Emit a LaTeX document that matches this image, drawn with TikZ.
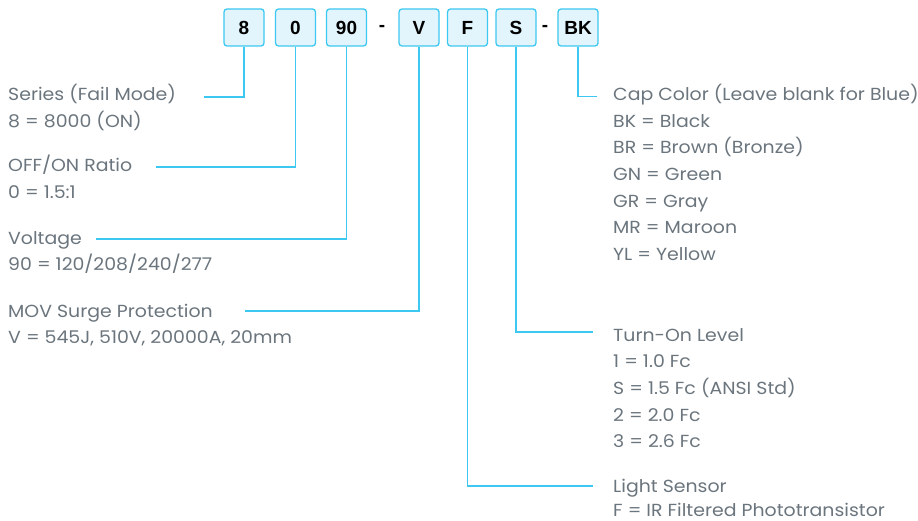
\documentclass[tikz,border=0pt]{standalone}
\usepackage{fontspec}
\setmainfont[FakeStretch=1.08]{Poppins}
\newfontfamily\boxfont{Liberation Sans}
\usetikzlibrary{calc}
\definecolor{lineblue}{HTML}{3CC8F0}
\definecolor{boxfill}{HTML}{E2F4FC}
\definecolor{txtgray}{HTML}{6B757D}
\tikzset{
  codebox/.style={draw=lineblue, line width=1.3pt, fill=boxfill, rounded corners=3pt,
    minimum width=40pt, minimum height=37pt, inner sep=0pt,
    font=\boxfont\bfseries\fontsize{19}{19}\selectfont, text=black},
  sep/.style={font=\boxfont\bfseries\fontsize{19}{19}\selectfont, text=black, inner sep=0pt},
  lbl/.style={anchor=base west, inner sep=0pt, text=txtgray, font=\fontsize{17.5}{17.5}\selectfont},
  conn/.style={draw=lineblue, line width=1.3pt},
}
\begin{document}
\begin{tikzpicture}[x=1pt,y=-1pt]
\useasboundingbox (0,0) rectangle (918,521);
% code boxes
\node[codebox] (b8)  at (244,27.5) {8};
\node[codebox] (b0)  at (295.5,27.5) {0};
\node[codebox] (b90) at (346.5,27.5) {90};
\node[sep] (d1) at (382,28) {-};
\node[codebox] (bV)  at (419,27.5) {V};
\node[codebox] (bF)  at (467.5,27.5) {F};
\node[codebox] (bS)  at (516,27.5) {S};
\node[sep] (d2) at (545,28) {-};
\node[codebox] (bBK) at (578,27.5) {BK};
% left labels
\node[lbl] (series)  at (8,101) {Series (Fail Mode)};
\node[lbl] (seriesv) at (8,128) {8 = 8000 (ON)};
\node[lbl] (ratio)   at (8,172) {OFF/ON Ratio};
\node[lbl] (ratiov)  at (8,199) {0 = 1.5:1};
\node[lbl] (volt)    at (8,245) {Voltage};
\node[lbl] (voltv)   at (8,271) {90 = 120/208/240/277};
\node[lbl] (mov)     at (8,317) {MOV Surge Protection};
\node[lbl] (movv)    at (8,343) {V = 545J, 510V, 20000A, 20mm};
% right labels
\node[lbl] (cap) at (613,101) {Cap Color (Leave blank for Blue)};
\node[lbl] (cap1) at (613,127.5) {BK = Black};
\node[lbl] (cap2) at (613,154) {BR = Brown (Bronze)};
\node[lbl] (cap3) at (613,181) {GN = Green};
\node[lbl] (cap4) at (613,207.5) {GR = Gray};
\node[lbl] (cap5) at (613,234) {MR = Maroon};
\node[lbl] (cap6) at (613,261) {YL = Yellow};
\node[lbl] (turn) at (613,341) {Turn-On Level};
\node[lbl] (turn1) at (613,367) {1 = 1.0 Fc};
\node[lbl] (turn2) at (613,394) {S = 1.5 Fc (ANSI Std)};
\node[lbl] (turn3) at (613,421) {2 = 2.0 Fc};
\node[lbl] (turn4) at (613,447) {3 = 2.6 Fc};
\node[lbl] (light) at (613,492) {Light Sensor};
\node[lbl] (lightv) at (613,516) {F = IR Filtered Phototransistor};
% connector ends
\coordinate (eSeries) at (204,97);
\coordinate (eRatio)  at (156,167);
\coordinate (eVolt)   at (96,239);
\coordinate (eMov)    at (245,311);
\coordinate (eCap)    at (597,96.5);
\coordinate (eTurn)   at (593,332);
\coordinate (eLight)  at (593,486);
% connectors
\draw[conn] (b8.south)  |- (eSeries);
\draw[conn] (b0.south)  |- (eRatio);
\draw[conn] (b90.south) |- (eVolt);
\draw[conn] (bV.south)  |- (eMov);
\draw[conn] (bBK.south) |- (eCap);
\draw[conn] (bS.south)  |- (eTurn);
\draw[conn] (bF.south)  |- (eLight);
\end{tikzpicture}
\end{document}
